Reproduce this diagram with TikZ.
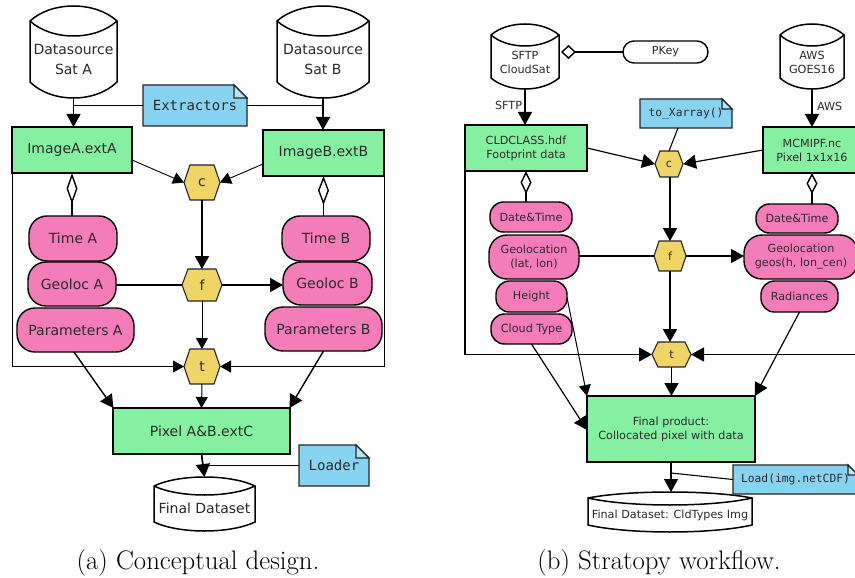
\documentclass[tikz,border=0pt]{standalone}
\usepackage{fontspec}
\usetikzlibrary{arrows.meta,calc}
\newfontfamily\dv{DejaVu Sans}
\newfontfamily\dvm{DejaVu Sans Mono}
\definecolor{grn}{HTML}{86F0A2}
\definecolor{pnk}{HTML}{F47DB9}
\definecolor{ylw}{HTML}{EFD565}
\definecolor{blu}{HTML}{87D4F2}
\definecolor{ink}{HTML}{2A2A2A}
\newcommand{\fL}{\dv\fontsize{14}{20}\selectfont}
\newcommand{\fS}{\dv\fontsize{11.2}{14}\selectfont}
\newcommand{\mL}{\dvm\fontsize{14}{16}\selectfont}
\newcommand{\mS}{\dvm\fontsize{11.3}{14}\selectfont}
\tikzset{
  x=1pt,y=-1pt,
  every node/.style={inner sep=0pt,outer sep=0pt,text=ink,align=center},
  ghost/.style={draw=none},
  grnbox/.style={draw=black,fill=grn,line width=1.8pt},
  pill/.style={draw=black,fill=pnk,line width=1.4pt,rounded corners=18pt},
  spill/.style={draw=black,fill=pnk,line width=1.4pt,rounded corners=13.5pt},
  wpill/.style={draw=black,fill=white,line width=1.4pt,rounded corners=11pt},
  cylsty/.style={draw=black,fill=white,line width=1.5pt},
  hexsty/.style={draw=black!85,fill=ylw,line width=1.1pt},
  notesty/.style={draw=black!85,fill=blu,line width=1.2pt},
  big/.style={line width=1.7pt,-{Triangle[length=13pt,width=14pt]}},
  med/.style={line width=1pt,-{Triangle[length=11pt,width=12pt]}},
  thin1/.style={line width=.9pt,-{Triangle[length=11pt,width=12pt]}},
  plain1/.style={line width=.9pt},
  plain2/.style={line width=1.8pt},
  dia/.style={line width=1.4pt,{Diamond[open,length=#1,width=11pt]}-},
  caption/.style={font=\fontsize{26.8}{30}\selectfont,text=black},
  lf/.style={font=\fL},
  sf/.style={font=\fS},
}
% box node from corners: style,name,x1,y1,x2,y2,text
\newcommand{\boxn}[7]{%
  \pgfmathsetmacro{\cx}{(#3+#5)/2}\pgfmathsetmacro{\cy}{(#4+#6)/2}%
  \pgfmathsetmacro{\ww}{#5-#3}\pgfmathsetmacro{\hh}{#6-#4}%
  \node[#1,minimum width=\ww pt,minimum height=\hh pt] (#2) at (\cx,\cy) {#7};}
% cylinder: name,xL,xR,yTop,ySideTop,yLens,ySideBot,yBot,text
\newcommand{\cyln}[9]{%
  \pgfmathsetmacro{\cx}{(#2+#3)/2}\pgfmathsetmacro{\qa}{#2+(#3-#2)/4}\pgfmathsetmacro{\qb}{#3-(#3-#2)/4}%
  \pgfmathsetmacro{\ca}{#5+(#4-#5)*4/3}\pgfmathsetmacro{\cb}{#5+(#6-#5)*4/3}\pgfmathsetmacro{\cc}{#7+(#8-#7)*4/3}%
  \path[cylsty] (#2,#5) .. controls (\qa,\ca) and (\qb,\ca) .. (#3,#5) -- (#3,#7)
     .. controls (\qb,\cc) and (\qa,\cc) .. (#2,#7) -- cycle;
  \path[cylsty,fill=none] (#2,#5) .. controls (\qa,\cb) and (\qb,\cb) .. (#3,#5);
  \pgfmathsetmacro{\cy}{(#4+#8)/2}\pgfmathsetmacro{\ww}{#3-#2}\pgfmathsetmacro{\hh}{#8-#4}%
  \node[ghost,minimum width=\ww pt,minimum height=\hh pt] (#1) at (\cx,\cy) {};
  \node[cyltext] (#1t) at (\cx,{(#6+#7)/2}) {#9};}
% hexagon: name,x1,x2,y1,y2,inset,text
\newcommand{\hexn}[7]{%
  \pgfmathsetmacro{\cx}{(#2+#3)/2}\pgfmathsetmacro{\cy}{(#4+#5)/2}%
  \pgfmathsetmacro{\ww}{#3-#2}\pgfmathsetmacro{\hh}{#5-#4}%
  \path[hexsty] (#2,\cy) -- (#2+#6,#4) -- (#3-#6,#4) -- (#3,\cy) -- (#3-#6,#5) -- (#2+#6,#5) -- cycle;
  \node[ghost,minimum width=\ww pt,minimum height=\hh pt] (#1) at (\cx,\cy) {#7};}
% note: name,x1,x2,y1,y2,fold,text
\newcommand{\noten}[7]{%
  \pgfmathsetmacro{\cx}{(#2+#3)/2}\pgfmathsetmacro{\cy}{(#4+#5)/2}%
  \pgfmathsetmacro{\ww}{#3-#2}\pgfmathsetmacro{\hh}{#5-#4}%
  \path[notesty] (#2,#4) -- (#3-#6,#4) -- (#3,#4+#6) -- (#3,#5) -- (#2,#5) -- cycle;
  \path[notesty,fill=blu!60] (#3-#6,#4) -- (#3-#6,#4+#6) -- (#3,#4+#6) -- cycle;
  \node[ghost,minimum width=\ww pt,minimum height=\hh pt] (#1) at (\cx,\cy) {#7};}
\begin{document}
\begin{tikzpicture}
\clip (0,0) rectangle (855,578);
\fill[white] (0,0) rectangle (855,578);
% ===== (a) =====
\tikzset{cyltext/.style={lf}}
\cyln{srcA}{30}{117}{6}{21}{36}{82}{98}{Datasource\\Sat A}
\cyln{srcB}{277}{369}{6}{21}{36}{82}{98}{Datasource\\Sat B}
\boxn{grnbox,lf}{imgA}{12}{127}{132}{173}{ImageA.extA}
\boxn{grnbox,lf}{imgB}{263}{130}{384}{176}{ImageB.extB}
\noten{extr}{143}{247}{85}{126}{13}{\raisebox{-3pt}{\mL Extractors}}
\hexn{ca}{184}{220}{165}{200}{6}{\fL c}
\hexn{fa}{182}{222}{269}{301}{6}{\fL f}
\hexn{ta}{184}{220}{349}{384}{6}{\fL t}
\boxn{pill,lf}{timeA}{29}{216}{117}{261}{Time A}
\boxn{pill,lf}{geoA}{28}{262}{116}{306}{Geoloc A}
\boxn{pill,lf}{parA}{17}{308}{134}{352}{Parameters A}
\boxn{pill,lf}{timeB}{282}{216}{370}{261}{Time B}
\boxn{pill,lf}{geoB}{283}{262}{372}{305}{Geoloc B}
\boxn{pill,lf}{parB}{265}{307}{382}{351}{Parameters B}
\boxn{grnbox,lf}{pixel}{113}{408}{290}{454}{Pixel A\&B.extC}
\cyln{finA}{154}{255}{477}{486}{495}{522}{531}{Final Dataset}
\noten{load}{299}{369}{445}{486}{13}{\raisebox{-3pt}{\mL Loader}}
\node[caption] (capa) at (198,563) {(a) Conceptual design.};
% connectors (a)
\draw[big] (srcA.south) -- (srcA.south |- imgA.north);
\draw[big] (srcB.south) -- (srcB.south |- imgB.north);
\draw[plain1] (extr.west) -- (extr.west -| srcA.south);
\draw[plain1] (extr.east) -- (extr.east -| srcB.south);
\draw[thin1] ([yshift=-10pt]imgA.east) -- (ca.west);
\draw[thin1] ([yshift=-11pt]imgB.west) -- (ca.east);
\draw[big] (ca.south) -- (fa.north);
\draw[plain2] (geoA.east |- fa.west) -- (fa.west);
\draw[big] (fa.east) -- (fa.east -| geoB.west);
\draw[med] (fa.south) -- (ta.north);
\draw[dia=31pt] (imgA.south) -- (imgA.south |- timeA.north);
\draw[dia=29pt] (imgB.south) -- (imgB.south |- timeB.north);
\draw[thin1] (imgA.south west) |- (ta.west);
\draw[thin1] (imgB.south east) |- (ta.east);
\draw[big,line width=1.4pt] ([xshift=-1.5pt]parA.south) -- ([xshift=-88pt]pixel.north);
\draw[big,line width=1.4pt] (parB.south) -- ([xshift=88pt]pixel.north);
\draw[med] (ta.south) -- (pixel.north);
\draw[big] (pixel.south) -- (finA.north);
\draw[plain1] (load.west) -- (load.west -| finA.north);
% ===== (b) =====
\tikzset{cyltext/.style={sf}}
\cyln{srcS}{491}{559}{24}{35}{46}{78}{89}{SFTP\\CloudSat}
\cyln{srcG}{780}{844}{24}{35}{46}{78}{89}{AWS\\GOES16}
\boxn{wpill,sf}{pkey}{623}{41}{708}{63}{PKey}
\boxn{grnbox,sf}{cld}{465}{125}{587}{171}{CLDCLASS.hdf\\Footprint data}
\boxn{grnbox,sf}{mcm}{763}{127}{861}{173}{MCMIPF.nc\\Pixel 1x1x16}
\noten{xarr}{640}{732}{99}{128}{10}{\raisebox{-2.5pt}{\mS to\_Xarray()}}
\hexn{cb}{655}{683}{151}{177}{5}{\fS c}
\hexn{fb}{654}{686}{241}{271}{5}{\fS f}
\hexn{tb}{652}{691}{342}{367}{6}{\fS t}
\boxn{spill,sf}{dtL}{490}{202}{572}{232}{Date\&Time}
\boxn{pill,sf}{glL}{489}{235}{579}{279}{Geolocation\\(lat, lon)}
\boxn{spill,sf}{hgt}{496}{281}{567}{312}{Height}
\boxn{spill,sf}{cty}{491}{314}{572}{344}{Cloud Type}
\boxn{spill,sf}{dtR}{756}{204}{838}{233}{Date\&Time}
\boxn{pill,sf}{glR}{744}{235}{858}{279}{Geolocation\\geos(h, lon\_cen)}
\boxn{spill,sf}{rad}{761}{281}{838}{312}{Radiances}
\boxn{grnbox,sf}{prod}{587}{396}{755}{462}{Final product:\\Collocated pixel with data}
\cyln{finB}{588}{752}{492}{498}{505}{525}{532}{Final Dataset: CldTypes Img}
\noten{lnote}{733}{858}{465}{494}{10}{\raisebox{-2.5pt}{\mS Load(img.netCDF)}}
\node[caption] (capb) at (659,563) {(b) Stratopy workflow.};
% connectors (b)
\draw[big] (srcS.south) -- node[pos=.45,left=3pt,sf] (lsftp) {SFTP} (srcS.south |- cld.north);
\draw[big] (srcG.south) -- node[pos=.45,right=5pt,sf] (laws) {AWS} (srcG.south |- mcm.north);
\draw[line width=1.4pt,{Diamond[open,length=15pt,width=14pt]}-] ([xshift=2pt]pkey.west -| srcS.east) -- (pkey.west);
\draw[big,line width=1.2pt] (cld.east) -- (cb.west);
\draw[big,line width=1.2pt] (mcm.west) -- (cb.east);
\draw[plain1,line width=1.1pt] (xarr.south) ++(-8pt,0) -- (cb.north);
\draw[big] (fb.north |- cb.south) -- (fb.north);
\draw[plain1,line width=1.1pt] (glL.east |- fb.west) -- (fb.west);
\draw[big,line width=1.1pt] (fb.east) -- (fb.east -| glR.west);
\draw[big] (fb.south) -- (fb.south |- tb.north);
\draw[dia=23pt] (cld.south) -- (cld.south |- dtL.north);
\draw[dia=21pt] (mcm.south) -- (mcm.south |- dtR.north);
\draw[big,line width=1.2pt] (cld.south west) |- (tb.west);
\draw[big,line width=1.2pt] (mcm.south east) |- (tb.east);
\draw[big] (tb.south) -- (tb.south |- prod.north);
\draw[med] ([yshift=-1pt]hgt.east) -- (prod.north west);
\draw[big,line width=1.2pt] (cty.south) -- ([yshift=-1pt]prod.west);
\draw[big,line width=1.2pt] (rad.south) -- (prod.north east);
\draw[big,line width=1.4pt] (prod.south) -- (prod.south |- finB.north);
\draw[plain1,line width=1.1pt] (lnote.west) -- ([yshift=-11pt]prod.south);
\end{tikzpicture}
\end{document}
